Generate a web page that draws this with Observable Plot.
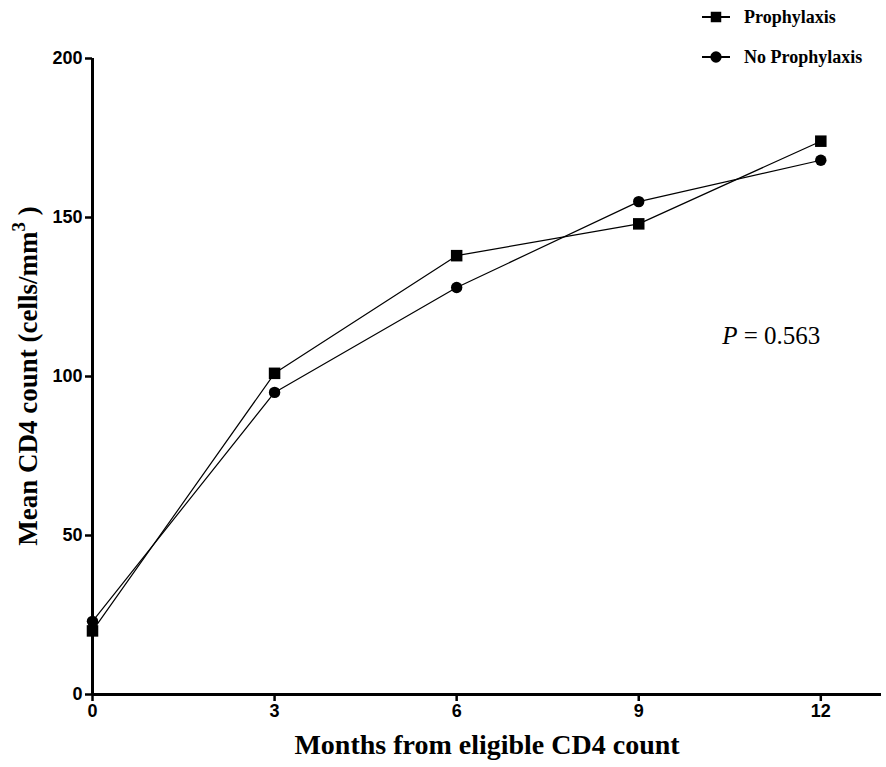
<!DOCTYPE html>
<html>
<head>
<meta charset="utf-8">
<script src="https://cdn.jsdelivr.net/npm/d3@7"></script>
<script src="https://cdn.jsdelivr.net/npm/@observablehq/plot@0.6"></script>
<style>
  html, body { margin: 0; padding: 0; background: #fff; }
  #wrap { position: relative; width: 886px; height: 767px; }
  #legend { position: absolute; left: 701px; top: 5px; font-family: "Liberation Serif", "Times New Roman", serif; font-weight: bold; font-size: 18px; color: #000; }
  #legend .row { display: flex; align-items: center; height: 24px; margin-bottom: 16px; }
  #legend svg { margin-right: 13px; }
</style>
</head>
<body>
<div id="wrap"></div>
<script>
const months = [0, 3, 6, 9, 12];
const prophylaxis = [20, 101, 138, 148, 174];
const noProphylaxis = [23, 95, 128, 155, 168];
const seriesNames = ["Prophylaxis", "No Prophylaxis"];
const xTicks = [0, 3, 6, 9, 12];
const yTicks = [0, 50, 100, 150, 200];
const pLabel = "0.563";
const xTitle = "Months from eligible CD4 count";
const yTitle = "Mean CD4 count (cells/mm";

const proData = months.map((m, i) => ({month: m, value: prophylaxis[i]}));
const noData = months.map((m, i) => ({month: m, value: noProphylaxis[i]}));
const tickFont = {fontFamily: "Liberation Sans, Arial, sans-serif", fontWeight: "bold", fontSize: 18, fill: "#000"};

const chart = Plot.plot({
  width: 886,
  height: 767,
  marginLeft: 92,
  marginRight: 5,
  marginTop: 58,
  marginBottom: 73,
  style: {background: "#fff", overflow: "visible"},
  x: {domain: [0, 13]},
  y: {domain: [0, 200]},
  marks: [
    Plot.line(proData, {x: "month", y: "value", stroke: "#000", strokeWidth: 1.2}),
    Plot.line(noData, {x: "month", y: "value", stroke: "#000", strokeWidth: 1.2}),
    Plot.dot(proData, {x: "month", y: "value", symbol: "square", fill: "#000", stroke: "none", r: 6.5}),
    Plot.dot(noData, {x: "month", y: "value", symbol: "circle", fill: "#000", stroke: "none", r: 5.7}),
    Plot.ruleY([0], {stroke: "#000", strokeWidth: 3}),
    Plot.ruleX([0], {y1: 0, y2: 200, stroke: "#000", strokeWidth: 3}),
    Plot.axisX(xTicks, {tickSize: 7, strokeWidth: 2.5, label: null, tickFormat: () => ""}),
    Plot.axisY(yTicks, {tickSize: 7, strokeWidth: 2.5, label: null, tickFormat: () => ""}),
    Plot.text(xTicks, {x: d => d, frameAnchor: "bottom", lineAnchor: "top", dy: 10, text: d => String(d), ...tickFont}),
    Plot.text(yTicks, {y: d => d, frameAnchor: "left", textAnchor: "end", dx: -10, text: d => String(d), ...tickFont}),
    Plot.text([xTitle], {frameAnchor: "bottom", dy: 59, fontFamily: "Liberation Serif, Times New Roman, serif", fontWeight: "bold", fontSize: 28, fill: "#000"})
  ]
});

const svg = d3.select(chart);
const xs = chart.scale("x"), ys = chart.scale("y");

// P value annotation placed via scales
const t = svg.append("text")
  .attr("x", xs.apply(12))
  .attr("y", ys.apply(110))
  .attr("text-anchor", "end")
  .attr("font-family", "Liberation Serif, Times New Roman, serif")
  .attr("font-size", 25)
  .attr("fill", "#000");
t.append("tspan").attr("font-style", "italic").text("P");
t.append("tspan").text(" = " + pLabel);

// Y axis title with superscript
const yMid = (ys.apply(0) + ys.apply(200)) / 2;
const yl = svg.append("text")
  .attr("transform", `translate(37,${yMid}) rotate(-90)`)
  .attr("text-anchor", "middle")
  .attr("font-family", "Liberation Serif, Times New Roman, serif")
  .attr("font-weight", "bold")
  .attr("font-size", 27)
  .attr("fill", "#000");
yl.append("tspan").text(yTitle);
yl.append("tspan").attr("font-size", 19).attr("dy", -12).text("3");
yl.append("tspan").attr("dy", 12).text(" )");

const wrap = document.getElementById("wrap");
wrap.appendChild(chart);

// Legend
const legend = document.createElement("div");
legend.id = "legend";
seriesNames.forEach((name, i) => {
  const row = document.createElement("div");
  row.className = "row";
  const s = d3.create("svg").attr("width", 30).attr("height", 16);
  s.append("line").attr("x1", 1).attr("x2", 29).attr("y1", 8).attr("y2", 8).attr("stroke", "#000").attr("stroke-width", 2);
  s.append("path").attr("transform", "translate(15,8)")
    .attr("d", d3.symbol(i === 0 ? d3.symbolSquare : d3.symbolCircle, i === 0 ? 110 : 100)())
    .attr("fill", "#000");
  row.appendChild(s.node());
  const lab = document.createElement("span");
  lab.textContent = name;
  row.appendChild(lab);
  legend.appendChild(row);
});
wrap.appendChild(legend);
</script>
</body>
</html>
